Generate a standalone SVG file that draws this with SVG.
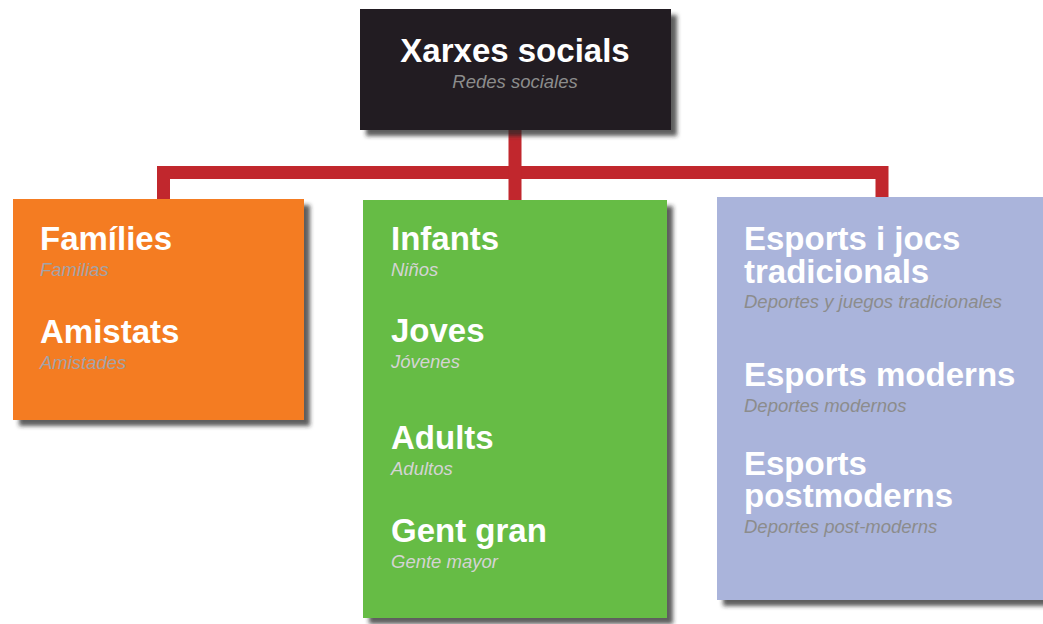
<svg xmlns="http://www.w3.org/2000/svg" width="1043" height="624" viewBox="0 0 1043 624">
<defs>
<filter id="sh" x="-10%" y="-10%" width="130%" height="130%">
<feDropShadow dx="6" dy="6" stdDeviation="2.2" flood-color="#2a2a2a" flood-opacity="0.75"/>
</filter>
</defs>
<style>
.t{font-family:"Liberation Sans",Arial,Helvetica,sans-serif;font-weight:bold;font-size:33px;fill:#ffffff}
.s{font-family:"Liberation Sans",Arial,Helvetica,sans-serif;font-style:italic;font-size:18.5px}
.con{fill:none;stroke:#c1272d;stroke-width:13;stroke-linejoin:miter}
</style>
<rect width="1043" height="624" fill="#ffffff"/>
<g id="connectors">
<path class="con" d="M163.5 200 V172.5 H882 V200"/>
<path class="con" d="M515 128 V201"/>
</g>
<g id="root">
<rect x="360" y="9" width="311" height="121" fill="#231f20" filter="url(#sh)"/>
<text class="t" x="515" y="62" text-anchor="middle">Xarxes socials</text>
<text class="s" x="515" y="88" text-anchor="middle" fill="#8c8c8c">Redes sociales</text>
</g>
<g id="families">
<rect x="13" y="199" width="291" height="221" fill="#f47b20" filter="url(#sh)"/>
<text class="t" x="40" y="250">Famílies</text>
<text class="s" x="40" y="276" fill="#a3a3a8">Familias</text>
<text class="t" x="40" y="343">Amistats</text>
<text class="s" x="40" y="369" fill="#a3a3a8">Amistades</text>
</g>
<g id="ages">
<rect x="363" y="200" width="304" height="418" fill="#66bc45" filter="url(#sh)"/>
<text class="t" x="391" y="250">Infants</text>
<text class="s" x="391" y="276" fill="#d4d4d4">Niños</text>
<text class="t" x="391" y="342">Joves</text>
<text class="s" x="391" y="368" fill="#d4d4d4">Jóvenes</text>
<text class="t" x="391" y="449">Adults</text>
<text class="s" x="391" y="475" fill="#d4d4d4">Adultos</text>
<text class="t" x="391" y="542">Gent gran</text>
<text class="s" x="391" y="568" fill="#d4d4d4">Gente mayor</text>
</g>
<g id="sports">
<rect x="717" y="197" width="340" height="403" fill="#aab4db" filter="url(#sh)"/>
<text class="t" x="744" y="250">Esports i jocs<tspan x="744" y="283">tradicionals</tspan></text>
<text class="s" x="744" y="308" fill="#8c8c8c">Deportes y juegos tradicionales</text>
<text class="t" x="744" y="386">Esports moderns</text>
<text class="s" x="744" y="412" fill="#8c8c8c">Deportes modernos</text>
<text class="t" x="744" y="475">Esports<tspan x="744" y="507">postmoderns</tspan></text>
<text class="s" x="744" y="533" fill="#8c8c8c">Deportes post-moderns</text>
</g>
</svg>
